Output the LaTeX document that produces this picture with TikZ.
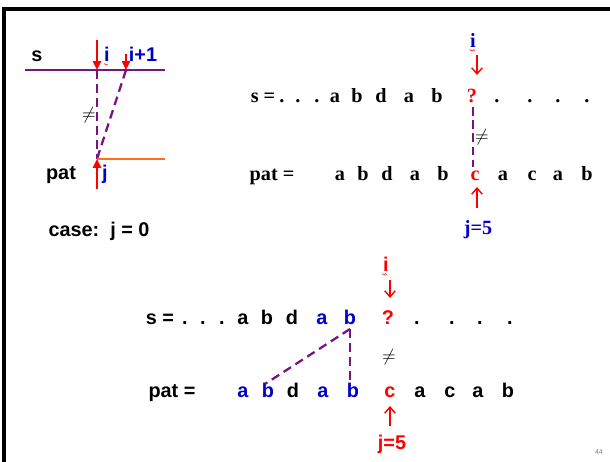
\documentclass[tikz,border=0pt]{standalone}
\usepackage{fontspec}
\setmainfont{Liberation Serif}
\setsansfont{Liberation Sans}
\usepackage{tikz}
\usetikzlibrary{arrows.meta,decorations.pathmorphing}
\definecolor{pur}{RGB}{120,20,130}
\definecolor{blu}{RGB}{0,0,200}
\definecolor{org}{RGB}{255,110,20}

\begin{document}
\begin{tikzpicture}[x=0.02cm,y=-0.02cm,
  sf/.style={font=\sffamily\bfseries\fontsize{11.3}{13}\selectfont,inner sep=0pt,anchor=base},
  rm/.style={font=\bfseries\fontsize{11.5}{13}\selectfont,inner sep=0pt,anchor=base},
  neq/.style={font=\normalfont\fontsize{10}{12}\selectfont,inner sep=0pt},
  ptr/.style={red,line width=1.2pt,-{Triangle[length=5pt,width=4.5pt]}},
  thin ptr/.style={red,line width=0.8pt,-{Straight Barb[length=3.5pt,width=6pt]}},
  match/.style={pur,line width=1.3pt,dash pattern=on 5pt off 3pt},
  wavy/.style={red,line width=0.3pt,decorate,decoration={snake,amplitude=0.4pt,segment length=1.6pt}}]
\useasboundingbox (0,0) rectangle (610,462);
\draw[line width=2pt](4,462)|-(610,9);
\node[text=gray,font=\sffamily\fontsize{4}{5}\selectfont] (pg) at (599,452) {44};

% case j = 0
\node[sf] (s1) at (37,62) {s};
\node[sf,text=blu] (i1) at (107,62) {i};
\node[sf,text=blu] (ii1) at (143,62) {i+1};
\coordinate (l1) at (25,70);
\coordinate (r1) at (165,70);
\coordinate (a1) at (97,70);
\coordinate (b1) at (126,70);
\coordinate (c1) at (97,159);
\coordinate (o1) at (165,159);
\draw[pur,line width=1.3pt](l1)--(r1);
\draw[ptr](97,40)--(a1);
\draw[ptr](126,54)--(b1);
\draw[match](a1)--(c1);
\draw[match](b1)--(c1);
\draw[org,line width=1.3pt](c1)--(o1);
\draw[ptr](97,189)--(c1);
\draw[wavy](i1.south west)++(0,2)--++(4,0);
\node[neq] (n1) at (89,115) {$\neq$};
\node[sf] (p1) at (61,180) {pat};
\node[sf,text=blu] (j1) at (105,180) {j};
\node[sf] (case) at (99,237) {case:\ \ j = 0};

% serif rows
\node[rm] (s2) at (263,103) {s =};
\foreach \x [count=\k] in {282,298,317}
  \node[rm] (sd\k) at (\x,103) {.};
\foreach \x/\c [count=\k] in {335/a,357/b,381/d,409/a,437/b}
  \node[rm] (sa\k) at (\x,103) {\c};
\node[rm,text=red] (q2) at (472,103) {?};
\foreach \x [count=\k] in {497,530,558,587}
  \node[rm] (se\k) at (\x,103) {.};
\node[rm] (p2) at (272,181) {pat =};
\foreach \x/\c [count=\k] in {340/a,363/b,387/d,415/a,443/b}
  \node[rm] (pa\k) at (\x,181) {\c};
\node[rm,text=red] (c2) at (475,181) {c};
\foreach \x/\c [count=\k] in {503/a,532/c,558/a,587/b}
  \node[rm] (pb\k) at (\x,181) {\c};
\node[rm,text=blu] (i2) at (473,48) {i};
\draw[wavy](i2.south west)++(0,2)--++(5,0);
\draw[thin ptr](477,55)--(477,75);
\coordinate (q2b) at (473,107);
\coordinate (c2t) at (473,167);
\draw[pur,line width=1.3pt,dash pattern=on 5pt off 2.5pt](q2b)--(c2t);
\node[neq] (n2) at (482,137) {$\neq$};
\draw[thin ptr](477,208)--(477,187);
\node[rm,text=blu] (j2) at (478,235) {j=5};

% sans rows
\node[sf] (s3) at (160,325) {s =};
\foreach \x [count=\k] in {185,203,222}
  \node[sf] (td\k) at (\x,325) {.};
\foreach \x/\c/\col [count=\k] in {243/a/black,267/b/black,292/d/black,322/a/blu,350/b/blu}
  \node[sf,text=\col] (ta\k) at (\x,325) {\c};
\node[sf,text=red] (q3) at (388,325) {?};
\foreach \x [count=\k] in {417,452,480,510}
  \node[sf] (te\k) at (\x,325) {.};
\node[sf] (p3) at (172,398) {pat =};
\foreach \x/\c/\col [count=\k] in {243/a/blu,268/b/blu,293/d/black,323/a/blu,353/b/blu,390/c/red,420/a/black,450/c/black,478/a/black,508/b/black}
  \node[sf,text=\col] (ua\k) at (\x,398) {\c};
\node[sf,text=red] (i3) at (386,272) {i};
\draw[wavy](i3.south west)++(-1,2)--++(5,0);
\draw[thin ptr](390,280)--(390,298);
\coordinate (tb) at (350,329);
\coordinate (ub) at (350,384);
\coordinate (ubb) at (265,384);
\draw[match](tb)--(ub);
\draw[match](tb)--(ubb);
\node[neq] (n3) at (389,357) {$\neq$};
\draw[thin ptr](390,426)--(390,406);
\node[sf,text=red] (j3) at (392,450) {j=5};
\end{tikzpicture}
\end{document}
